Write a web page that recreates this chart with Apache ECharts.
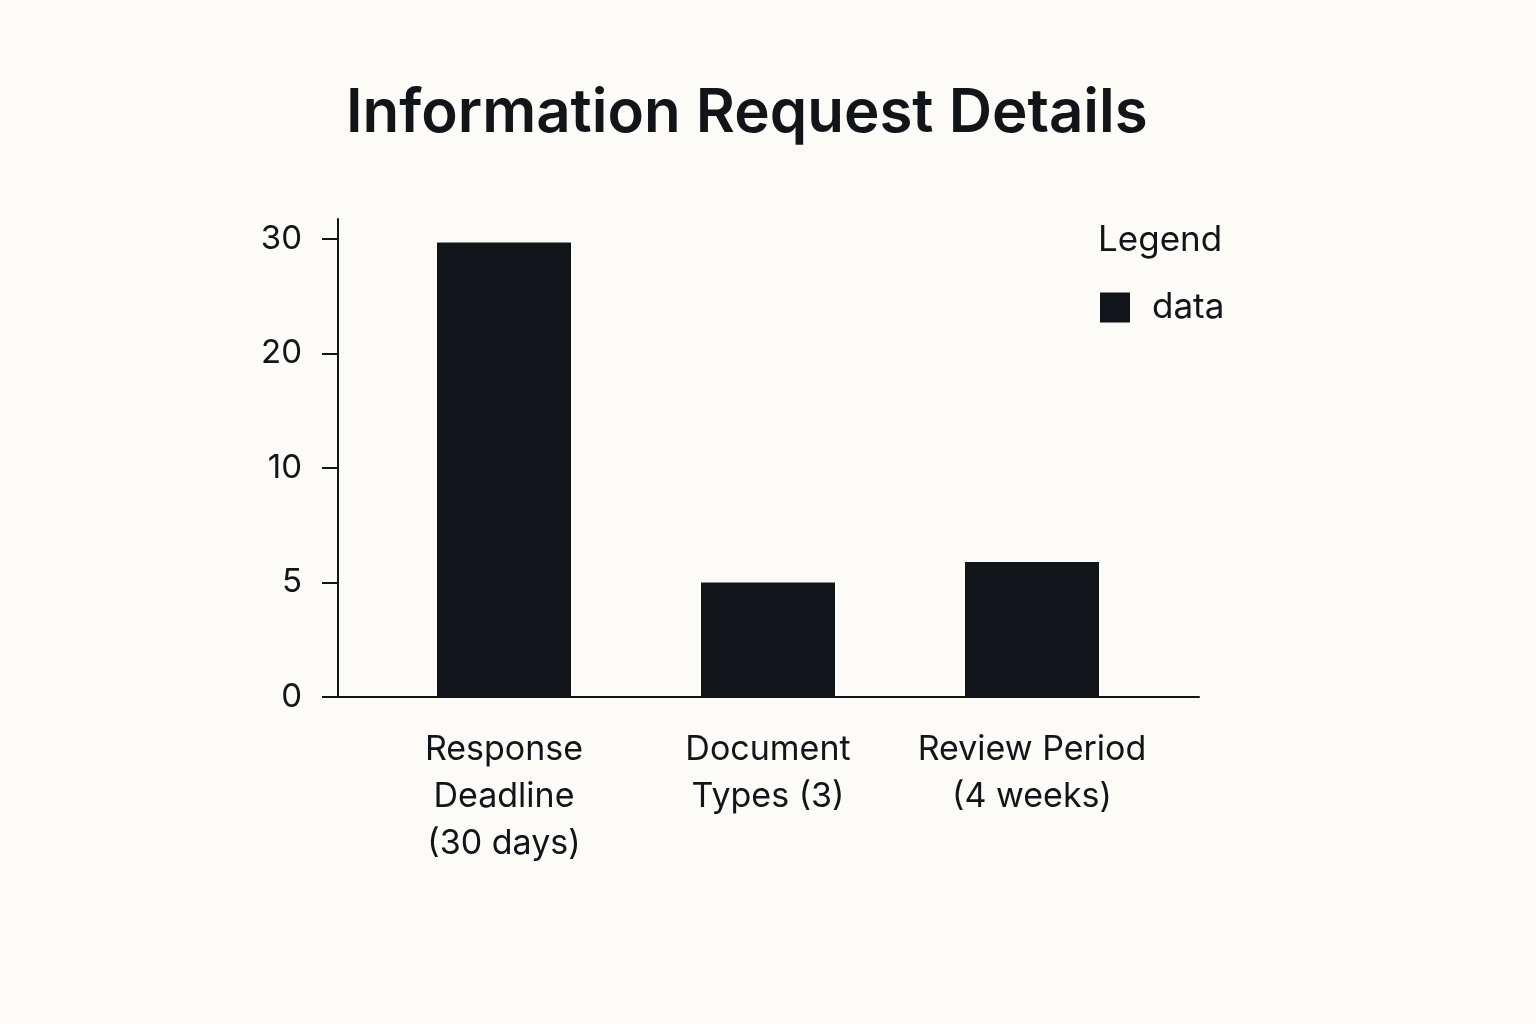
<!DOCTYPE html>
<html>
<head>
<meta charset="utf-8">
<script src="https://cdn.jsdelivr.net/npm/echarts@6/dist/echarts.min.js"></script>
<style>
html,body{margin:0;padding:0;background:#fcfbf8;}
#chart{width:1536px;height:1024px;}
</style>
</head>
<body>
<div id="chart"></div>
<script>
const categories = ['Response\nDeadline\n(30 days)', 'Document\nTypes (3)', 'Review Period\n(4 weeks)'];
const values = [29.7, 5, 5.9];
const seriesName = 'data';
const tickLabels = [0, 5, 10, 20, 30];

// piecewise mapping: each tick label sits at an evenly spaced slot
function toSlot(v) {
  for (let i = 0; i < tickLabels.length - 1; i++) {
    const a = tickLabels[i], b = tickLabels[i + 1];
    if (v <= b) return i + (v - a) / (b - a);
  }
  return tickLabels.length - 1;
}
const slotValues = tickLabels.map((_, i) => i);
const slotMax = 4 + 20 / 114.5;

const chart = echarts.init(document.getElementById('chart'));
const font = 'Inter, "Noto Sans", sans-serif';
const ink = '#111418';
chart.setOption({
  backgroundColor: '#fcfbf8',
  animation: false,
  textStyle: { fontFamily: font },
  title: [{
    text: 'Information Request Details',
    left: 341,
    top: 79,
    textStyle: { fontSize: 60, fontWeight: 600, color: ink, fontFamily: font }
  }, {
    text: 'Legend',
    left: 1093,
    top: 218,
    textStyle: { fontSize: 35, fontWeight: 400, color: ink, fontFamily: font }
  }],
  legend: {
    data: [seriesName],
    left: 1095,
    top: 285,
    icon: 'rect',
    itemWidth: 30,
    itemHeight: 30,
    textStyle: { fontSize: 35, color: ink, fontFamily: font, padding: [0, 0, 0, 17] }
  },
  grid: [
    { left: 372, right: 372, top: 219, bottom: 327, containLabel: false },
    { left: 338, right: 337, top: 219, bottom: 327, containLabel: false }
  ],
  xAxis: [{
    type: 'category',
    gridIndex: 0,
    data: categories,
    axisLine: { show: false },
    axisTick: { show: false },
    axisLabel: {
      fontSize: 34, color: ink, lineHeight: 47, margin: 29, interval: 0,
      fontFamily: font
    }
  }, {
    type: 'category',
    gridIndex: 1,
    data: [''],
    axisLine: { show: true, lineStyle: { color: ink, width: 2 } },
    axisTick: { show: false },
    axisLabel: { show: false }
  }],
  yAxis: [{
    type: 'value',
    gridIndex: 0,
    min: 0,
    max: slotMax,
    show: false,
    splitLine: { show: false }
  }, {
    type: 'value',
    gridIndex: 1,
    min: 0,
    max: slotMax,
    splitLine: { show: false },
    axisLine: { show: true, lineStyle: { color: ink, width: 2 } },
    axisTick: { show: true, length: 16, lineStyle: { color: ink, width: 2 }, customValues: slotValues },
    axisLabel: {
      fontSize: 33, color: ink, margin: 36, fontFamily: font,
      customValues: slotValues,
      formatter: v => String(tickLabels[Math.round(v)])
    }
  }],
  series: [{
    name: seriesName,
    type: 'bar',
    xAxisIndex: 0,
    yAxisIndex: 0,
    barWidth: 134,
    data: values.map(toSlot),
    itemStyle: { color: ink }
  }]
});
</script>
</body>
</html>
